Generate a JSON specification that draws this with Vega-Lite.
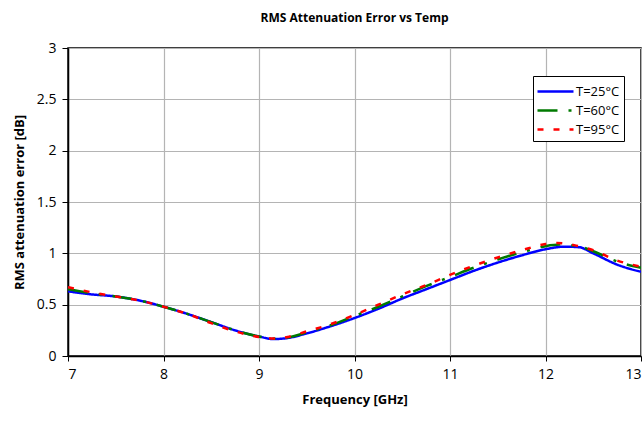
{
  "$schema": "https://vega.github.io/schema/vega-lite/v6.json",
  "width": 573,
  "height": 308,
  "autosize": {"type": "none"},
  "padding": {"left": 68, "top": 48, "right": 1, "bottom": 66},
  "background": "white",
  "title": {"text": "RMS Attenuation Error vs Temp", "font": "Open Sans", "fontSize": 12, "fontWeight": "bold", "color": "black", "offset": 16, "anchor": "middle"},
  "config": {
    "view": {"stroke": "black", "strokeWidth": 1.5},
    "font": "Open Sans"
  },
  "data": {"values": [
    {"f": 7.0, "v": 0.63, "s": "T=25°C"},
    {"f": 7.25, "v": 0.60, "s": "T=25°C"},
    {"f": 7.5, "v": 0.58, "s": "T=25°C"},
    {"f": 7.75, "v": 0.54, "s": "T=25°C"},
    {"f": 8.0, "v": 0.48, "s": "T=25°C"},
    {"f": 8.25, "v": 0.41, "s": "T=25°C"},
    {"f": 8.5, "v": 0.33, "s": "T=25°C"},
    {"f": 8.75, "v": 0.25, "s": "T=25°C"},
    {"f": 9.0, "v": 0.19, "s": "T=25°C"},
    {"f": 9.15, "v": 0.165, "s": "T=25°C"},
    {"f": 9.3, "v": 0.175, "s": "T=25°C"},
    {"f": 9.5, "v": 0.22, "s": "T=25°C"},
    {"f": 9.75, "v": 0.29, "s": "T=25°C"},
    {"f": 10.0, "v": 0.37, "s": "T=25°C"},
    {"f": 10.25, "v": 0.46, "s": "T=25°C"},
    {"f": 10.5, "v": 0.56, "s": "T=25°C"},
    {"f": 10.75, "v": 0.65, "s": "T=25°C"},
    {"f": 11.0, "v": 0.74, "s": "T=25°C"},
    {"f": 11.25, "v": 0.83, "s": "T=25°C"},
    {"f": 11.5, "v": 0.91, "s": "T=25°C"},
    {"f": 11.75, "v": 0.98, "s": "T=25°C"},
    {"f": 12.0, "v": 1.04, "s": "T=25°C"},
    {"f": 12.2, "v": 1.065, "s": "T=25°C"},
    {"f": 12.35, "v": 1.06, "s": "T=25°C"},
    {"f": 12.5, "v": 1.00, "s": "T=25°C"},
    {"f": 12.75, "v": 0.89, "s": "T=25°C"},
    {"f": 13.0, "v": 0.82, "s": "T=25°C"},

    {"f": 7.0, "v": 0.65, "s": "T=60°C"},
    {"f": 7.25, "v": 0.61, "s": "T=60°C"},
    {"f": 7.5, "v": 0.58, "s": "T=60°C"},
    {"f": 7.75, "v": 0.54, "s": "T=60°C"},
    {"f": 8.0, "v": 0.48, "s": "T=60°C"},
    {"f": 8.25, "v": 0.41, "s": "T=60°C"},
    {"f": 8.5, "v": 0.33, "s": "T=60°C"},
    {"f": 8.75, "v": 0.25, "s": "T=60°C"},
    {"f": 9.0, "v": 0.19, "s": "T=60°C"},
    {"f": 9.15, "v": 0.168, "s": "T=60°C"},
    {"f": 9.3, "v": 0.18, "s": "T=60°C"},
    {"f": 9.5, "v": 0.23, "s": "T=60°C"},
    {"f": 9.75, "v": 0.30, "s": "T=60°C"},
    {"f": 10.0, "v": 0.39, "s": "T=60°C"},
    {"f": 10.25, "v": 0.48, "s": "T=60°C"},
    {"f": 10.5, "v": 0.58, "s": "T=60°C"},
    {"f": 10.75, "v": 0.68, "s": "T=60°C"},
    {"f": 11.0, "v": 0.77, "s": "T=60°C"},
    {"f": 11.25, "v": 0.86, "s": "T=60°C"},
    {"f": 11.5, "v": 0.94, "s": "T=60°C"},
    {"f": 11.75, "v": 1.01, "s": "T=60°C"},
    {"f": 12.0, "v": 1.07, "s": "T=60°C"},
    {"f": 12.15, "v": 1.085, "s": "T=60°C"},
    {"f": 12.35, "v": 1.07, "s": "T=60°C"},
    {"f": 12.5, "v": 1.02, "s": "T=60°C"},
    {"f": 12.75, "v": 0.92, "s": "T=60°C"},
    {"f": 13.0, "v": 0.86, "s": "T=60°C"},

    {"f": 7.0, "v": 0.67, "s": "T=95°C"},
    {"f": 7.25, "v": 0.62, "s": "T=95°C"},
    {"f": 7.5, "v": 0.58, "s": "T=95°C"},
    {"f": 7.75, "v": 0.54, "s": "T=95°C"},
    {"f": 8.0, "v": 0.48, "s": "T=95°C"},
    {"f": 8.25, "v": 0.41, "s": "T=95°C"},
    {"f": 8.5, "v": 0.32, "s": "T=95°C"},
    {"f": 8.75, "v": 0.24, "s": "T=95°C"},
    {"f": 9.0, "v": 0.185, "s": "T=95°C"},
    {"f": 9.15, "v": 0.17, "s": "T=95°C"},
    {"f": 9.3, "v": 0.185, "s": "T=95°C"},
    {"f": 9.5, "v": 0.24, "s": "T=95°C"},
    {"f": 9.75, "v": 0.31, "s": "T=95°C"},
    {"f": 10.0, "v": 0.40, "s": "T=95°C"},
    {"f": 10.25, "v": 0.50, "s": "T=95°C"},
    {"f": 10.5, "v": 0.60, "s": "T=95°C"},
    {"f": 10.75, "v": 0.69, "s": "T=95°C"},
    {"f": 11.0, "v": 0.79, "s": "T=95°C"},
    {"f": 11.25, "v": 0.88, "s": "T=95°C"},
    {"f": 11.5, "v": 0.96, "s": "T=95°C"},
    {"f": 11.75, "v": 1.03, "s": "T=95°C"},
    {"f": 12.0, "v": 1.09, "s": "T=95°C"},
    {"f": 12.12, "v": 1.10, "s": "T=95°C"},
    {"f": 12.3, "v": 1.08, "s": "T=95°C"},
    {"f": 12.5, "v": 1.03, "s": "T=95°C"},
    {"f": 12.75, "v": 0.93, "s": "T=95°C"},
    {"f": 13.0, "v": 0.87, "s": "T=95°C"}
  ]},
  "mark": {"type": "line", "strokeWidth": 2.5, "clip": true, "interpolate": "monotone"},
  "encoding": {
    "x": {
      "field": "f", "type": "quantitative",
      "scale": {"domain": [7, 13], "nice": false, "zero": false},
      "axis": {
        "title": "Frequency [GHz]", "titleFont": "Open Sans", "titleFontSize": 13, "titleFontWeight": "bold", "titleColor": "black", "titlePadding": 12,
        "values": [7, 8, 9, 10, 11, 12, 13], "format": "~g", "labelFontSize": 14, "labelColor": "black", "labelFont": "Open Sans", "labelPadding": 6,
        "domainColor": "black", "domainWidth": 1.5, "tickColor": "black", "tickSize": 5,
        "gridColor": "#b4b4b4", "gridWidth": 1.2
      }
    },
    "y": {
      "field": "v", "type": "quantitative",
      "scale": {"domain": [0, 3], "nice": false},
      "axis": {
        "title": "RMS attenuation error [dB]", "titleFont": "Open Sans", "titleFontSize": 13, "titleFontWeight": "bold", "titleColor": "black", "titlePadding": 10,
        "values": [0, 0.5, 1, 1.5, 2, 2.5, 3], "format": "~g", "labelFontSize": 14, "labelColor": "black", "labelFont": "Open Sans", "labelPadding": 6,
        "domainColor": "black", "domainWidth": 1.5, "tickColor": "black", "tickSize": 6,
        "gridColor": "#b4b4b4", "gridWidth": 1.2
      }
    },
    "color": {
      "field": "s", "type": "nominal",
      "scale": {"domain": ["T=25°C", "T=60°C", "T=95°C"], "range": ["#0000ff", "#007a00", "#ff0000"]},
      "legend": {
        "title": null, "orient": "none", "legendX": 465, "legendY": 28,
        "strokeColor": "black", "fillColor": "white", "padding": 4,
        "symbolType": "M-1.8,0H1.8", "symbolSize": 400, "symbolStrokeWidth": 2.5, "symbolOffset": 7, "labelOffset": 9,
        "labelFontSize": 13, "labelFont": "Open Sans", "labelColor": "black", "rowPadding": 0
      }
    },
    "strokeDash": {
      "field": "s", "type": "nominal",
      "scale": {"domain": ["T=25°C", "T=60°C", "T=95°C"], "range": [[1, 0], [20, 11, 3, 11], [6, 10]]},
      "legend": {
        "title": null, "orient": "none", "legendX": 465, "legendY": 28,
        "strokeColor": "black", "fillColor": "white", "padding": 4,
        "symbolType": "M-1.8,0H1.8", "symbolSize": 400, "symbolStrokeWidth": 2.5, "symbolOffset": 7, "labelOffset": 9,
        "labelFontSize": 13, "labelFont": "Open Sans", "labelColor": "black", "rowPadding": 0
      }
    }
  }
}
